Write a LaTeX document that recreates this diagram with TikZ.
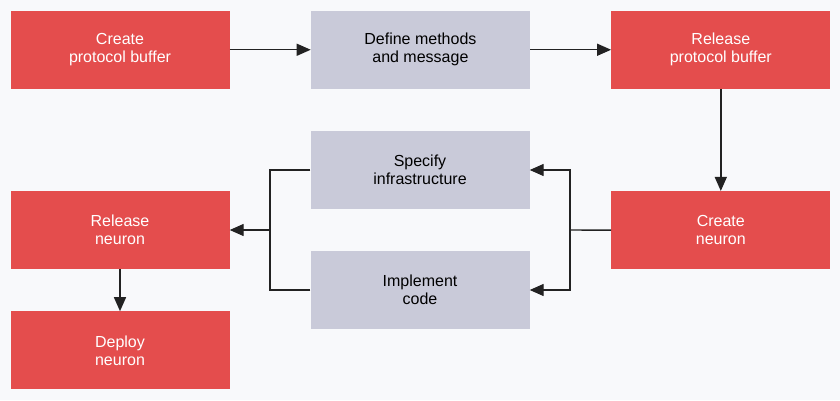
\documentclass[tikz,border=0pt]{standalone}
\usepackage{fontspec}
\setmainfont{Liberation Sans}
\usetikzlibrary{arrows.meta,positioning}
\definecolor{boxred}{HTML}{E44D4D}
\definecolor{boxgray}{HTML}{C9CAD9}
\definecolor{bgcolor}{HTML}{F8F9FB}
\definecolor{linecolor}{HTML}{222222}
\tikzset{
    redbox/.style={fill=boxred, text=white, minimum width=219pt, minimum height=78pt,
        inner sep=0pt, align=center, font=\fontsize{16}{18}\selectfont},
    graybox/.style={redbox, fill=boxgray, text=black},
    flow/.style={draw=linecolor, line width=1.4pt, -{Triangle[length=14pt,width=12pt]}},
    joinline/.style={draw=linecolor, line width=1.4pt},
}

\begin{document}
\begin{tikzpicture}[x=1pt,y=1pt]
    % Draw background.
    \fill[bgcolor] (0,0) rectangle (840,-400);

    % Draw top row.
    \node[redbox] (pbcreate) at (120,-49.75) {Create\\protocol buffer};
    \node[graybox, right=81pt of pbcreate] (methods) {Define methods\\and message};
    \node[redbox, right=81pt of methods] (pbrelease) {Release\\protocol buffer};

    % Draw neuron boxes.
    \node[redbox, below=102pt of pbrelease] (nrncreate) {Create\\neuron};
    \node[graybox] (infra) at (420,-170) {Specify\\infrastructure};
    \node[graybox] (code) at (420,-290) {Implement\\code};
    \node[redbox] (nrnrelease) at (120,-230) {Release\\neuron};
    \node[redbox, below=42pt of nrnrelease] (nrndeploy) {Deploy\\neuron};

    % Draw straight arrows.
    \draw[flow] (pbcreate) -- (methods);
    \draw[flow] (methods) -- (pbrelease);
    \draw[flow] (pbrelease) -- (nrncreate);
    \draw[flow] (nrnrelease) -- (nrndeploy);

    % Split to the middle boxes.
    \coordinate (rjoin) at (570,-230);
    \draw[joinline] (nrncreate.west) -- (rjoin);
    \foreach \B in {infra,code}
        \draw[flow] (rjoin) |- (\B.east);

    % Merge back to release.
    \coordinate (ljoin) at (270,-230);
    \foreach \B in {infra,code}
        \draw[joinline] (\B.west) -| (ljoin);
    \draw[flow] (ljoin) -- (nrnrelease.east);
\end{tikzpicture}
\end{document}
